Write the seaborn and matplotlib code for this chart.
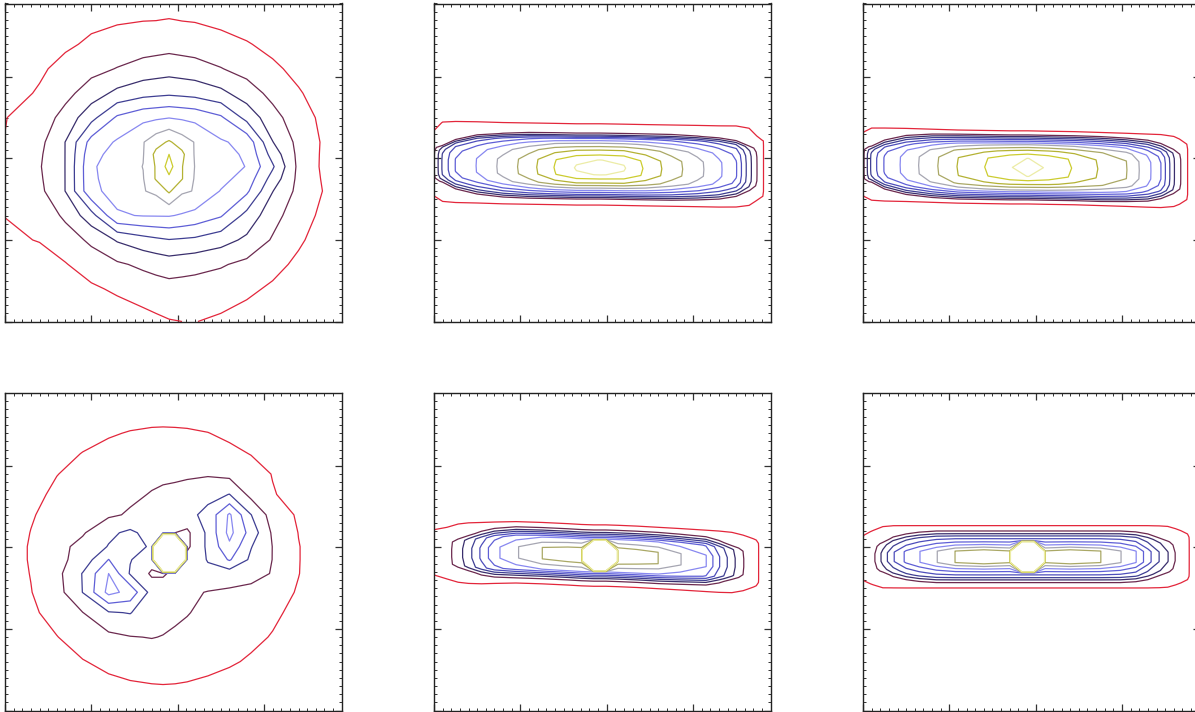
import numpy as np
import matplotlib
matplotlib.use("Agg")
import matplotlib.pyplot as plt
from matplotlib.ticker import MultipleLocator
import seaborn as sns

# ---------------- colours of the contour levels ----------------
level_hex = ['#e3263b', '#6c2a4f', '#3a2f6d', '#3f3f93', '#4d4dbb', '#5f5fd6',
             '#8888f0', '#a6a6b2', '#aaa866', '#b4b234', '#cccc30', '#ececa6']

# ---------------- panel 1 (top left): gridded field ----------------
p1_x = [-2.0, -1.6, -1.3, -1.0, -0.7, -0.4, -0.25, -0.1, 0.05, 0.2, 0.5, 0.8, 1.1, 1.4, 1.7, 1.9]
p1_y = [-2.0, -1.6, -1.3, -1.0, -0.7, -0.4, -0.25, -0.1, 0.05, 0.2, 0.5, 0.8, 1.1, 1.4, 1.7, 1.9]
p1_z = [
    [0, 0, 0, 0.2, 0.45, 0.7, 0.82, 0.95, 1.0, 1.02, 0.85, 0.6, 0.3, 0, 0, 0],
    [0, 0.15, 0.45, 0.85, 1.15, 1.4, 1.55, 1.64, 1.62, 1.6, 1.45, 1.2, 0.85, 0.45, 0.05, 0],
    [0.5, 0.55, 0.95, 1.45, 1.85, 2.2, 2.35, 2.5, 2.4, 2.3, 2.1, 1.75, 1.3, 0.8, 0.3, 0],
    [0.8, 1.05, 1.5, 2.2, 3.1, 3.6, 3.8, 3.96, 3.88, 3.8, 3.4, 2.8, 1.9, 1.15, 0.55, 0.15],
    [1.02, 1.3, 2.2, 3.6, 5.9, 6.05, 6.06, 6.07, 5.9, 5.7, 5.1, 3.68, 2.36, 1.44, 0.76, 0.35],
    [1.02, 1.75, 3.02, 5.8, 6.3, 6.95, 7.2, 8.16, 7.15, 6.95, 5.95, 5.2, 3.03, 1.72, 0.94, 0.49],
    [1.03, 1.85, 3.02, 5.85, 6.4, 6.95, 8.1, 8.8, 8.05, 6.9, 6.3, 5.6, 3.6, 1.74, 0.87, 0.47],
    [1.05, 1.92, 3.02, 5.87, 6.48, 7.02, 8.1, 9.4, 8.05, 6.97, 6.48, 5.96, 4.14, 1.76, 0.8, 0.45],
    [1.04, 1.85, 3.02, 5.7, 6.35, 6.95, 8.3, 9.0, 8.25, 6.9, 6.35, 5.85, 3.6, 1.74, 0.82, 0.47],
    [1.02, 1.72, 3.02, 5.39, 6.12, 6.95, 7.6, 8.14, 7.5, 6.95, 6.12, 5.7, 3.03, 1.72, 0.85, 0.49],
    [0.97, 1.44, 2.36, 3.68, 5.16, 5.74, 5.85, 5.97, 5.86, 5.74, 5.16, 3.68, 2.36, 1.44, 0.76, 0.35],
    [0.6, 1.1, 1.71, 2.49, 3.25, 3.65, 3.74, 3.82, 3.74, 3.65, 3.25, 2.49, 1.71, 1.1, 0.51, 0.15],
    [0.5, 0.85, 1.3, 1.7, 2.04, 2.41, 2.5, 2.59, 2.5, 2.41, 2.04, 1.64, 1.2, 0.71, 0.23, 0],
    [0.2, 0.5, 0.85, 1.15, 1.38, 1.5, 1.57, 1.64, 1.57, 1.5, 1.34, 1.08, 0.71, 0.3, 0, 0],
    [0, 0.1, 0.4, 0.8, 0.9, 0.97, 0.98, 1.03, 0.97, 0.94, 0.76, 0.51, 0.23, 0, 0, 0],
    [0, 0, 0, 0.2, 0.35, 0.49, 0.55, 0.6, 0.55, 0.49, 0.35, 0.15, 0, 0, 0, 0],
]
p1_levels = [1, 2, 3, 4, 5, 6, 7, 8, 9]
p1_colour_idx = [0, 1, 2, 3, 5, 6, 7, 9, 10]

# ---------------- panel 4 (bottom left): gridded field ----------------
p4_x = [-2.0, -1.7, -1.4, -1.1, -0.8, -0.55, -0.3, -0.17, -0.03, 0.11, 0.35, 0.6, 0.85, 1.1, 1.4, 1.7, 1.9]
p4_y = [-2.0, -1.7, -1.4, -1.1, -0.8, -0.55, -0.32, -0.15, 0.01, 0.18, 0.4, 0.65, 0.9, 1.15, 1.4, 1.7, 1.9]
p4_z = [
    [0, 0, 0, 0.1, 0.3, 0.4, 0.46, 0.47, 0.46, 0.43, 0.35, 0.22, 0.05, 0, 0, 0, 0],
    [0, 0, 0.27, 0.55, 0.75, 0.88, 0.95, 0.97, 0.96, 0.93, 0.83, 0.68, 0.48, 0.25, 0, 0, 0],
    [0, 0.27, 0.63, 0.95, 1.25, 1.41, 1.49, 1.46, 1.4, 1.34, 1.24, 1.1, 0.9, 0.62, 0.25, 0, 0],
    [0.15, 0.57, 0.97, 1.46, 1.76, 1.96, 2.03, 1.97, 1.84, 1.73, 1.55, 1.36, 1.18, 0.95, 0.55, 0.12, 0],
    [0.35, 0.82, 1.37, 1.98, 2.9, 3.05, 2.3, 2.3, 2.2, 2.05, 1.75, 1.6, 1.4, 1.15, 0.78, 0.32, 0],
    [0.47, 0.97, 1.6, 3.02, 5.3, 4.7, 2.6, 2.4, 2.4, 2.2, 1.95, 1.85, 1.75, 1.35, 0.93, 0.45, 0.12],
    [0.55, 1.03, 1.71, 3.05, 5.0, 2.9, 1.85, 1.9, 2.2, 2.3, 2.8, 2.5, 2.3, 1.95, 1.02, 0.52, 0.18],
    [0.57, 1.07, 1.7, 2.4, 4.02, 3.05, 2.4, 60, 60, 2.4, 3.05, 4.1, 2.8, 1.98, 1.03, 0.53, 0.2],
    [0.57, 1.07, 1.68, 2.3, 3.05, 3.3, 2.9, 60, 60, 1.8, 3.2, 4.8, 3.05, 1.98, 1.03, 0.53, 0.2],
    [0.53, 1.02, 1.53, 1.9, 2.8, 3.2, 2.6, 2.5, 2.0, 1.8, 3.2, 5.3, 3.6, 1.85, 0.98, 0.5, 0.17],
    [0.45, 0.93, 1.3, 1.63, 1.85, 2.1, 2.3, 2.3, 2.3, 2.7, 3.3, 5.15, 3.02, 1.55, 0.88, 0.42, 0.1],
    [0.3, 0.77, 1.16, 1.47, 1.69, 1.83, 2.05, 2.15, 2.2, 2.3, 2.7, 3.02, 1.7, 1.05, 0.73, 0.3, 0],
    [0.15, 0.58, 0.98, 1.24, 1.43, 1.61, 1.79, 1.83, 1.86, 1.89, 1.9, 1.72, 1.35, 0.97, 0.53, 0.08, 0],
    [0, 0.33, 0.7, 1.03, 1.25, 1.4, 1.45, 1.47, 1.48, 1.45, 1.35, 1.2, 0.97, 0.63, 0.3, 0, 0],
    [0, 0.05, 0.4, 0.68, 0.92, 1.05, 1.12, 1.13, 1.12, 1.1, 1.02, 0.83, 0.63, 0.35, 0, 0, 0],
    [0, 0, 0, 0.25, 0.45, 0.57, 0.62, 0.63, 0.62, 0.6, 0.52, 0.38, 0.2, 0, 0, 0, 0],
    [0, 0, 0, 0, 0.13, 0.23, 0.3, 0.3, 0.3, 0.27, 0.2, 0.07, 0, 0, 0, 0, 0],
]
p4_levels = [1, 2, 3, 4, 5, 6, 7, 8, 9, 10]
p4_colour_idx = [0, 1, 3, 5, 6, 7, 8, 9, 10, 11]

# ---------------- strip panels: level profile along and across the ridge ----------------
# panel 2 (top middle)
p2_x = [-2.0, -1.9, -1.75, -1.5, -1.2, -0.9, -0.6, -0.35, -0.08, 0.2, 0.45, 0.75, 1.05, 1.3, 1.5, 1.65, 1.8, 1.9]
p2_ridge = [-0.08, -0.08, -0.085, -0.09, -0.1, -0.105, -0.11, -0.115, -0.115, -0.12, -0.125, -0.13, -0.135, -0.14, -0.14, -0.14, -0.14, -0.14]
p2_width = [0.6, 0.62, 0.78, 0.92, 0.98, 1, 1, 1, 1, 1, 1, 1, 0.98, 0.95, 0.88, 0.78, 0.7, 0.65]
p2_along = [1.9, 4.2, 6.05, 7.05, 8.3, 9.55, 11.05, 12.1, 12.6, 12.1, 10.85, 9.5, 8.35, 7.2, 6.1, 3.4, 1.1, 0.5]
p2_dy = [-0.685, -0.485, -0.385, -0.325, -0.265, -0.185, -0.085, 0.0, 0.095, 0.215, 0.295, 0.355, 0.415, 0.515, 0.665]
p2_across = [0, 0.65, 1.9, 5.05, 7.5, 10.05, 12.05, 12.6, 12.02, 10.05, 8.2, 6.3, 2.1, 1.2, 0]
p2_peak = 12.6

# panel 3 (top right)
p3_x = [-2.0, -1.9, -1.75, -1.5, -1.2, -0.9, -0.6, -0.3, -0.09, 0.15, 0.45, 0.75, 1.05, 1.3, 1.45, 1.6, 1.75, 1.9]
p3_ridge = [-0.07, -0.07, -0.075, -0.08, -0.09, -0.1, -0.105, -0.11, -0.11, -0.115, -0.12, -0.13, -0.14, -0.15, -0.155, -0.16, -0.165, -0.17]
p3_width = [0.65, 0.62, 0.78, 0.92, 0.98, 1, 1, 1, 1, 1, 1, 1, 0.98, 0.95, 0.88, 0.8, 0.72, 0.65]
p3_along = [1.7, 4.3, 6.1, 7.35, 8.7, 10.05, 10.97, 11.9, 12.6, 11.8, 10.9, 9.9, 9.05, 7.3, 6.02, 3.1, 1.05, 0.3]
p3_dy = [-0.62, -0.47, -0.4, -0.34, -0.28, -0.2, -0.11, 0.0, 0.11, 0.2, 0.28, 0.34, 0.4, 0.47, 0.62]
p3_across = [0, 0.6, 1.9, 5.05, 7.95, 10.3, 12.02, 12.6, 12.02, 10.3, 7.95, 5.05, 1.9, 0.6, 0]
p3_peak = 12.6

# panel 5 (bottom middle)
p5_x = [-2.0, -1.85, -1.72, -1.6, -1.45, -1.3, -1.05, -0.75, -0.45, -0.29, -0.15, -0.01, 0.13, 0.35, 0.6, 0.85, 1.15, 1.3, 1.45, 1.58, 1.7, 1.9]
p5_ridge = [-0.06, -0.07, -0.07, -0.07, -0.07, -0.065, -0.06, -0.07, -0.085, -0.095, -0.1, -0.1, -0.105, -0.115, -0.13, -0.145, -0.165, -0.175, -0.185, -0.19, -0.19, -0.19]
p5_width = [0.6, 0.65, 0.72, 0.82, 0.9, 0.96, 1, 1, 1, 1, 1, 1, 1, 1, 1, 0.98, 0.95, 0.88, 0.8, 0.72, 0.65, 0.6]
p5_along = [1.1, 1.6, 2.55, 3.6, 5.2, 6.7, 7.9, 9.02, 9.4, 9.5, 9.6, 9.6, 9.8, 9.4, 9.02, 8.05, 7.05, 5.1, 3.4, 2.05, 1.3, 0.3]
p5_dy = [-0.6, -0.45, -0.38, -0.32, -0.28, -0.24, -0.2, -0.07, 0.07, 0.2, 0.24, 0.28, 0.32, 0.38, 0.45, 0.6]
p5_across = [0, 0.4, 0.95, 1.8, 3.1, 5.05, 7.05, 9.6, 9.6, 7.05, 5.05, 3.1, 1.8, 0.95, 0.4, 0]
p5_peak = 9.8
p5_spike_cells = [(7, 10), (7, 11), (8, 10), (8, 11)]
p5_spike_value = 60

# panel 6 (bottom right)
p6_x = [-2.0, -1.88, -1.77, -1.65, -1.5, -1.35, -1.15, -0.93, -0.6, -0.3, -0.16, -0.02, 0.11, 0.4, 0.75, 0.98, 1.16, 1.3, 1.43, 1.53, 1.62, 1.77, 1.9]
p6_ridge = [-0.13, -0.125, -0.12, -0.115, -0.115, -0.115, -0.115, -0.115, -0.115, -0.115, -0.115, -0.115, -0.115, -0.115, -0.115, -0.115, -0.115, -0.115, -0.115, -0.115, -0.115, -0.115, -0.115]
p6_width = [0.6, 0.65, 0.72, 0.82, 0.9, 0.96, 1, 1, 1, 1, 1, 1, 1, 1, 1, 1, 0.97, 0.92, 0.85, 0.78, 0.7, 0.62, 0.6]
p6_along = [1.05, 1.75, 3.3, 4.9, 6.2, 6.95, 7.95, 9.02, 9.5, 9.05, 9.3, 9.3, 9.05, 9.5, 9.02, 8.05, 7.05, 5.4, 4.0, 3.05, 1.95, 1.05, 0.3]
p6_dy = [-0.55, -0.45, -0.38, -0.32, -0.28, -0.24, -0.2, -0.07, 0.07, 0.2, 0.24, 0.28, 0.32, 0.38, 0.45, 0.55]
p6_across = [0, 0.4, 1.02, 1.9, 3.1, 4.6, 5.5, 9.5, 9.5, 5.5, 4.6, 3.1, 1.9, 1.02, 0.4, 0]
p6_peak = 9.5
p6_spike_cells = [(7, 10), (7, 11), (8, 10), (8, 11)]
p6_spike_value = 60

strip_levels = [1, 2, 3, 4, 5, 6, 7, 8, 9, 10, 11, 12]
strip_colour_idx = [0, 1, 2, 3, 4, 5, 6, 7, 8, 9, 10, 11]

# how the along/across profiles are joined into one table
join_inner = 2.0          # exponent near the peak
join_outer_gain = 4.0     # extra squareness toward the outer levels
outer_join = 8.0          # exponent used for the outermost (red) level

# ---------------- drawing ----------------
sns.set_theme(style="white")
plt.rcParams['font.family'] = ['DejaVu Sans']
palette = sns.color_palette(level_hex)

FIG_W, FIG_H = 1195.0, 712.0
AX_W, AX_H = 336.7, 318.0
col_left = [5.0, 434.0, 863.0]
row_top = [3.5, 392.5]

fig = plt.figure(figsize=(FIG_W / 100, FIG_H / 100), dpi=100)
fig.patch.set_facecolor('white')


def make_ax(col, row):
    left = col_left[col] / FIG_W
    bottom = 1.0 - (row_top[row] + AX_H) / FIG_H
    return fig.add_axes([left, bottom, AX_W / FIG_W, AX_H / FIG_H])


def style_ax(ax):
    ax.set_xlim(-2, 1.9)
    ax.set_ylim(-2, 1.9)
    for axis in (ax.xaxis, ax.yaxis):
        axis.set_major_locator(MultipleLocator(1))
        axis.set_minor_locator(MultipleLocator(0.1))
    ax.tick_params(which='both', direction='in', bottom=True, top=True,
                   left=True, right=True, labelbottom=False, labelleft=False,
                   color='#333333')
    ax.tick_params(which='major', length=5, width=0.9)
    ax.tick_params(which='minor', length=2.3, width=0.7)
    for sp in ax.spines.values():
        sp.set_linewidth(1.0)
        sp.set_color('#222222')
    ax.set_facecolor('white')


def strip_table(along, across, peak, exponent=None, spike_cells=(), spike_value=None):
    g = np.minimum(np.asarray(along, float), peak)
    h = np.minimum(np.asarray(across, float), peak)
    u = (peak - g)[None, :]
    v = (peak - h)[:, None]
    if exponent is None:
        m = np.maximum(u, v)
        p = join_inner + join_outer_gain * (m / peak) ** 4
    else:
        p = exponent
    n = (u ** p + v ** p) ** (1.0 / p)
    z = np.clip(peak - n, 0, None)
    for (r, c) in spike_cells:
        z[r, c] = spike_value
    return z


def draw_rect(ax, xs, ys, z, levels, cidx):
    ax.contour(np.asarray(xs), np.asarray(ys), np.asarray(z, dtype=float),
               levels=levels, colors=[palette[i] for i in cidx], linewidths=0.9)
    style_ax(ax)


def draw_strip(ax, xs, ridge, width, along, dy, across, peak, levels, cidx,
               spike_cells=(), spike_value=None):
    xs = np.asarray(xs, dtype=float)
    ridge = np.asarray(ridge, dtype=float)
    width = np.asarray(width, dtype=float)
    dy = np.asarray(dy, dtype=float)
    X = np.tile(xs, (dy.size, 1))
    # outermost level: full-width grid, squarer join
    Y_outer = ridge[None, :] + dy[:, None]
    z_outer = strip_table(along, across, peak, exponent=outer_join)
    ax.contour(X, Y_outer, z_outer, levels=levels[:1],
               colors=[palette[cidx[0]]], linewidths=0.9)
    # inner levels: grid narrowed toward the ends
    Y_inner = ridge[None, :] + dy[:, None] * width[None, :]
    z_inner = strip_table(along, across, peak, None, spike_cells, spike_value)
    ax.contour(X, Y_inner, z_inner, levels=levels[1:],
               colors=[palette[i] for i in cidx[1:]], linewidths=0.9)
    style_ax(ax)


draw_rect(make_ax(0, 0), p1_x, p1_y, p1_z, p1_levels, p1_colour_idx)
draw_strip(make_ax(1, 0), p2_x, p2_ridge, p2_width, p2_along, p2_dy, p2_across,
           p2_peak, strip_levels, strip_colour_idx)
draw_strip(make_ax(2, 0), p3_x, p3_ridge, p3_width, p3_along, p3_dy, p3_across,
           p3_peak, strip_levels, strip_colour_idx)
draw_rect(make_ax(0, 1), p4_x, p4_y, p4_z, p4_levels, p4_colour_idx)
draw_strip(make_ax(1, 1), p5_x, p5_ridge, p5_width, p5_along, p5_dy, p5_across,
           p5_peak, strip_levels, strip_colour_idx, p5_spike_cells, p5_spike_value)
draw_strip(make_ax(2, 1), p6_x, p6_ridge, p6_width, p6_along, p6_dy, p6_across,
           p6_peak, strip_levels, strip_colour_idx, p6_spike_cells, p6_spike_value)

fig.savefig("out.png", dpi=100, facecolor='white')
